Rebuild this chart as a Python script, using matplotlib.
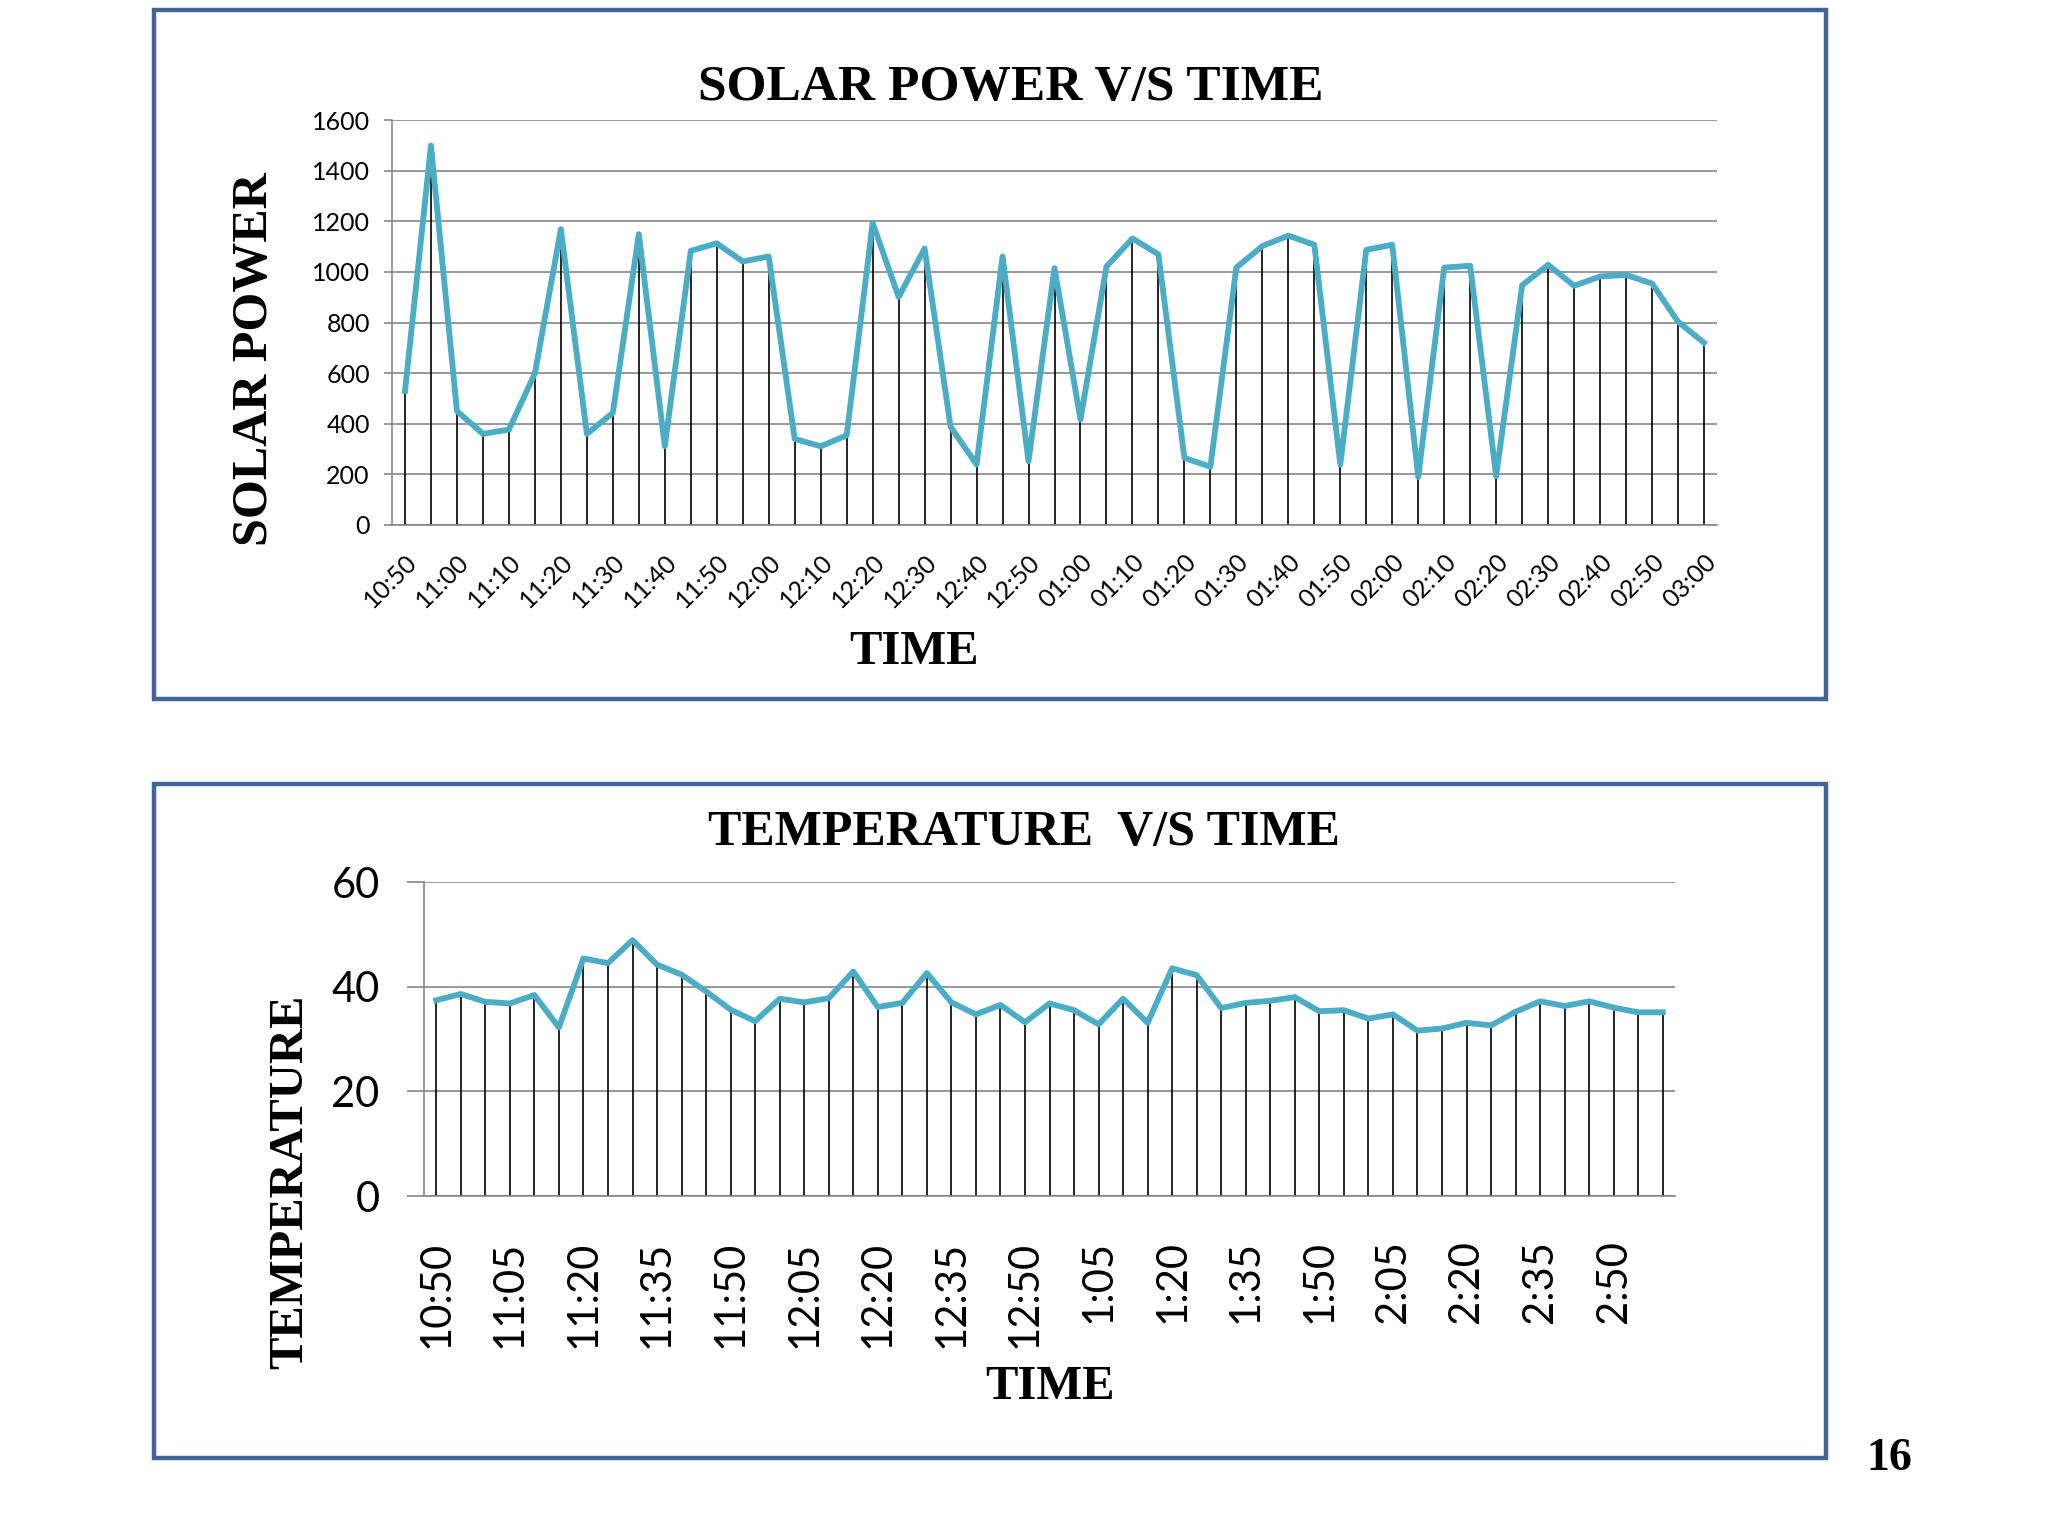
import matplotlib

matplotlib.use("Agg")
import matplotlib.pyplot as plt
from matplotlib.patches import Rectangle

W, H = 2048, 1536

# readings every 5 minutes, 10:50 -> 03:00
solar_power = [
    529, 1499, 450, 360, 377, 599, 1169, 360, 443, 1149, 311, 1083, 1113,
    1041, 1061, 340, 311, 354, 1193, 901, 1092, 388, 239, 1061, 252, 1015,
    417, 1021, 1132, 1069, 265, 230, 1017, 1102, 1143, 1107, 239, 1087, 1107,
    190, 1017, 1024, 193, 947, 1028, 945, 982, 988, 954, 803, 720,
]
temperature = [
    37.4, 38.6, 37.1, 36.8, 38.4, 32.2, 45.4, 44.5, 48.9, 44.2, 42.3, 39.1,
    35.6, 33.4, 37.7, 37.0, 37.8, 42.9, 36.1, 36.9, 42.6, 37.0, 34.7, 36.5,
    33.2, 36.8, 35.5, 32.8, 37.7, 33.1, 43.5, 42.2, 35.9, 36.9, 37.3, 38.0,
    35.3, 35.5, 33.9, 34.7, 31.6, 32.0, 33.1, 32.6, 35.2, 37.2, 36.3, 37.2,
    36.0, 35.1, 35.1,
]
solar_labels = [
    "10:50", "11:00", "11:10", "11:20", "11:30", "11:40", "11:50", "12:00",
    "12:10", "12:20", "12:30", "12:40", "12:50", "01:00", "01:10", "01:20",
    "01:30", "01:40", "01:50", "02:00", "02:10", "02:20", "02:30", "02:40",
    "02:50", "03:00",
]
temp_labels = [
    "10:50", "11:05", "11:20", "11:35", "11:50", "12:05", "12:20", "12:35",
    "12:50", "1:05", "1:20", "1:35", "1:50", "2:05", "2:20", "2:35", "2:50",
]

LINE = "#4BACC6"
GRID = "#868686"
BORDER = "#41659A"
SERIF = "Liberation Serif"
SANS = "Lato"


def px_axes(fig, left, top, right, bottom):
    return fig.add_axes([left / W, 1 - bottom / H, (right - left) / W, (bottom - top) / H])


def style_axes(ax, ylim, yticks, tick_len, fsize, pad):
    ax.set_xlim(-0.5, len(solar_power) - 0.5)
    ax.set_ylim(*ylim)
    ax.set_yticks(yticks)
    ax.grid(axis="y", color=GRID, lw=1.2)
    ax.set_axisbelow(True)
    for side in ("top", "right"):
        ax.spines[side].set_visible(False)
    for side in ("left", "bottom"):
        ax.spines[side].set_color(GRID)
        ax.spines[side].set_linewidth(1.2)
    ax.tick_params(axis="y", length=tick_len, color=GRID, width=1.2,
                   labelsize=fsize, pad=pad)
    ax.tick_params(axis="x", length=0)
    for lab in ax.get_yticklabels():
        lab.set_family(SANS)


fig = plt.figure(figsize=(W / 100, H / 100), dpi=100)

for top, bottom in ((10, 699), (784, 1458)):
    fig.patches.append(Rectangle((154 / W, 1 - bottom / H), (1826 - 154) / W,
                                 (bottom - top) / H, transform=fig.transFigure,
                                 fill=False, edgecolor=BORDER, lw=3.2))

# solar power chart
ax1 = px_axes(fig, 392, 120, 1717, 525)
x1 = range(len(solar_power))
ax1.vlines(x1, 0, solar_power, color="black", lw=1.2, zorder=2)
ax1.plot(x1, solar_power, color=LINE, lw=4.2, zorder=3)
style_axes(ax1, (0, 1600), range(0, 1601, 200), 6, 18, 10)
ax1.set_xticks(range(0, len(solar_power), 2))
ax1.set_xticklabels(solar_labels, rotation=45, ha="right", va="top",
                    rotation_mode="anchor", fontsize=18, family=SANS)
ax1.tick_params(axis="x", pad=18)

fig.text(1011 / W, 1 - 88 / H, "SOLAR POWER V/S TIME", ha="center", va="center",
         fontsize=37, fontweight="bold", family=SERIF)
fig.text(255 / W, 1 - 359 / H, "SOLAR POWER", ha="center", va="center",
         rotation=90, fontsize=36, fontweight="bold", family=SERIF)
fig.text(914 / W, 1 - 652 / H, "TIME", ha="center", va="center",
         fontsize=35, fontweight="bold", family=SERIF)

# temperature chart
ax2 = px_axes(fig, 424, 882, 1675, 1196)
x2 = range(len(temperature))
ax2.vlines(x2, 0, temperature, color="black", lw=1.2, zorder=2)
ax2.plot(x2, temperature, color=LINE, lw=4.2, zorder=3)
style_axes(ax2, (0, 60), range(0, 61, 20), 12, 30, 20)
ax2.set_xticks(range(0, 3 * len(temp_labels), 3))
ax2.set_xticklabels(temp_labels, rotation=90, ha="center", va="top",
                    fontsize=30, family=SANS)
ax2.tick_params(axis="x", pad=32)

fig.text(1024 / W, 1 - 833 / H, "TEMPERATURE  V/S TIME", ha="center", va="center",
         fontsize=36, fontweight="bold", family=SERIF)
fig.text(290 / W, 1 - 1182 / H, "TEMPERATURE", ha="center", va="center",
         rotation=90, fontsize=35, fontweight="bold", family=SERIF)
fig.text(1050 / W, 1 - 1387 / H, "TIME", ha="center", va="center",
         fontsize=35, fontweight="bold", family=SERIF)

fig.text(1889 / W, 1 - 1459 / H, "16", ha="center", va="center",
         fontsize=33, fontweight="bold", family=SERIF)

fig.savefig("out.png", dpi=100, facecolor="white")
